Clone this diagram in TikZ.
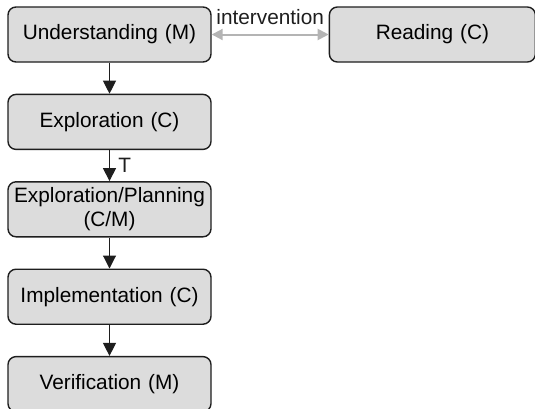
\documentclass[tikz,border=0pt]{standalone}
\usepackage{fontspec}
\setmainfont{Liberation Sans}
\usepackage{xcolor}
\usetikzlibrary{positioning, arrows.meta}
\definecolor{boxfill}{HTML}{DCDCDC}
\definecolor{boxink}{HTML}{1E1E1E}
\definecolor{linkgray}{HTML}{B4B4B4}

\begin{document}
\begin{tikzpicture}[x=1pt, y=1pt, font=\fontsize{20.8}{24}\selectfont, node distance=31pt,
  stage/.style={draw=boxink, line width=1.4pt, rounded corners=8pt, fill=boxfill, minimum height=55pt, minimum width=203pt, text width=195pt, align=center, inner sep=2pt},
  ar/.style={-{Triangle[length=13pt, width=13pt]}, boxink, line width=1.1pt},
  link/.style={{Triangle[length=11pt, width=11pt]}-{Triangle[length=11pt, width=11pt]}, linkgray, line width=2pt}]
\useasboundingbox (0,0) rectangle (535,-408);

\node[stage] (und) at (109.5,-34.5) {Understanding (M)};
\node[stage, minimum width=206pt, right=117pt of und] (read) {Reading (C)};
\node[stage, below=of und] (expl) {Exploration (C)};
\node[stage, below=of expl] (plan) {Exploration/Planning\\(C/M)};
\node[stage, below=of plan] (impl) {Implementation (C)};
\node[stage, below=of impl] (verif) {Verification (M)};

\draw[link] (und) -- node[above=5pt, text=boxink] (interv) {intervention} (read);
\draw[ar] (und) -- (expl);
\draw[ar] (expl) -- node[right=5pt] (tlabel) {T} (plan);
\draw[ar] (plan) -- (impl);
\draw[ar] (impl) -- (verif);
\end{tikzpicture}
\end{document}
